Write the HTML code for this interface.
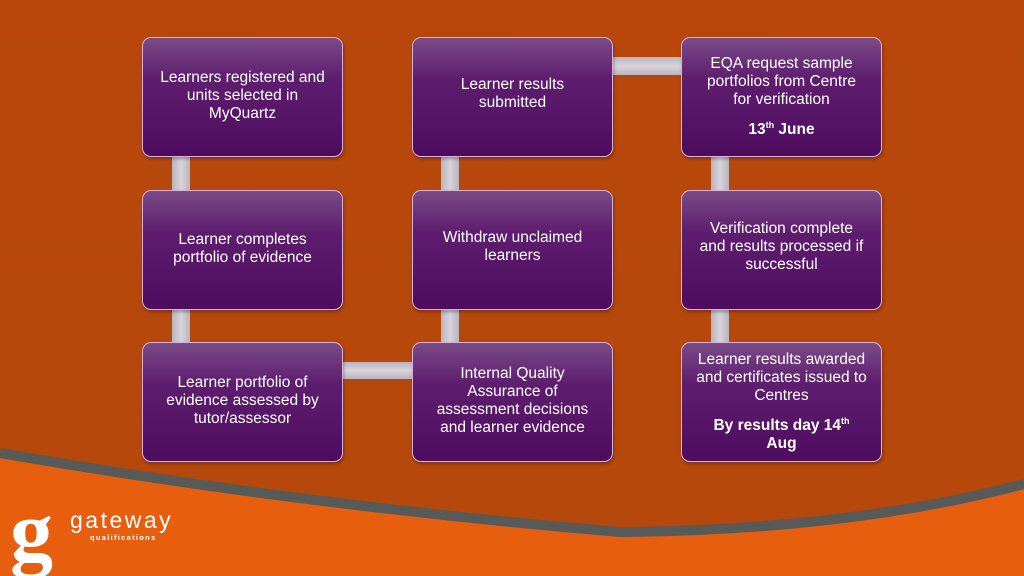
<!DOCTYPE html>
<html><head><meta charset="utf-8"><style>
body{margin:0;width:1024px;height:576px;overflow:hidden;font-family:"Liberation Sans",sans-serif;}
.bg{position:absolute;left:0;top:0;width:1024px;height:576px;background:linear-gradient(180deg,#b9470c 0%,#b5480c 100%);}
.box{position:absolute;width:201px;height:120px;border-radius:9px;border:1px solid #d8b2dc;box-sizing:border-box;
background:linear-gradient(180deg,#7a4b88 0%,#5e1d6e 35%,#4e0c5e 100%);color:#fff;font-size:15.5px;line-height:18px;
display:flex;align-items:center;justify-content:center;text-align:center;flex-direction:column;padding:0 12px 2px;box-shadow:1px 2px 3px rgba(0,0,0,.3);}
.c{position:absolute;background:linear-gradient(90deg,#b9b4bd,#d8d4da,#b9b4bd);}
.h{position:absolute;background:linear-gradient(180deg,#b9b4bd,#d8d4da,#b9b4bd);}
b{font-weight:bold}
</style></head><body>
<div class="bg"></div>
<svg style="position:absolute;left:0;top:0" width="1024" height="576">
<path d="M0,453 Q300,505 620,532 Q850,530 1024,484 L1024,576 L0,576 Z" fill="#e65e0e"/>
<path d="M0,453 Q300,505 620,532 Q850,530 1024,484" fill="none" stroke="#585a58" stroke-width="10"/>
<text x="70" y="528" fill="#fff" font-family="Liberation Sans" font-size="23" letter-spacing="2.5">gateway</text>
<text x="90" y="540" fill="#fff" font-family="Liberation Sans" font-size="7.5" font-weight="bold" letter-spacing="1.3">qualifications</text>
<text x="10" y="560" fill="#fff" font-family="Liberation Serif" font-size="86" font-weight="bold">g</text>
</svg>
<div class="c" style="left:172px;top:155px;width:18px;height:37px"></div>
<div class="c" style="left:172px;top:308px;width:18px;height:36px"></div>
<div class="c" style="left:441px;top:155px;width:18px;height:37px"></div>
<div class="c" style="left:441px;top:308px;width:18px;height:36px"></div>
<div class="c" style="left:711px;top:155px;width:18px;height:37px"></div>
<div class="c" style="left:711px;top:308px;width:18px;height:36px"></div>
<div class="h" style="left:341px;top:362px;width:73px;height:17px"></div>
<div class="h" style="left:611px;top:57px;width:72px;height:18px"></div>

<div class="box" style="left:142px;top:37px">Learners registered and units selected in MyQuartz</div>
<div class="box" style="left:142px;top:190px">Learner completes portfolio of evidence</div>
<div class="box" style="left:142px;top:342px">Learner portfolio of evidence assessed by tutor/assessor</div>
<div class="box" style="left:412px;top:37px;padding:0 40px 6px">Learner results submitted</div>
<div class="box" style="left:412px;top:190px;padding:0 22px 6px">Withdraw unclaimed learners</div>
<div class="box" style="left:412px;top:342px;padding:0 14px 2px">Internal Quality Assurance of assessment decisions and learner evidence</div>
<div class="box" style="left:681px;top:37px;padding:0 16px"><div>EQA request sample portfolios from Centre for verification</div><div style="margin-top:6px"><b>13<sup style="font-size:9px">th</sup> June</b></div></div>
<div class="box" style="left:681px;top:190px;padding:0 16px 6px">Verification complete and results processed if successful</div>
<div class="box" style="left:681px;top:342px;padding:0 10px"><div>Learner results awarded and certificates issued to Centres</div><div style="margin-top:6px;padding:0 10px"><b>By results day 14<sup style="font-size:9px">th</sup> Aug</b></div></div>
</body></html>
